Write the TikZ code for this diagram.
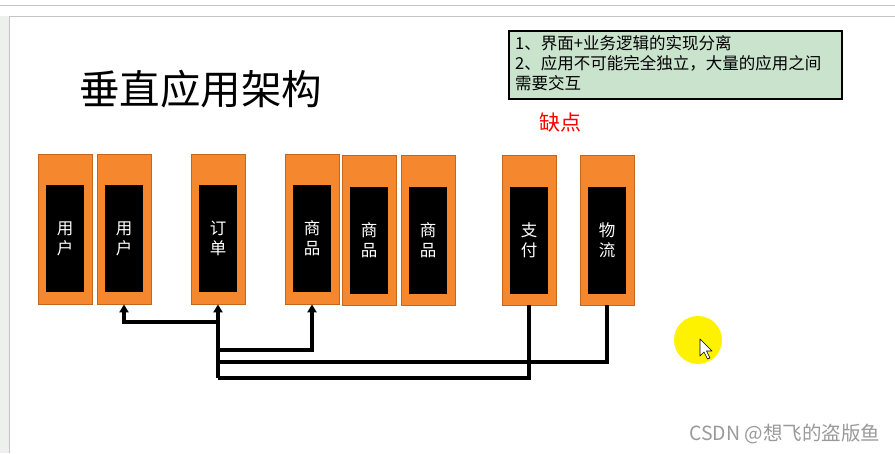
\documentclass[tikz,border=0pt]{standalone}
\usepackage{fontspec}
\setmainfont{Noto Sans CJK SC}
\usetikzlibrary{arrows.meta}
\definecolor{appor}{HTML}{F5882F}
\definecolor{appedge}{HTML}{C2671F}
\definecolor{notegreen}{HTML}{C9E3CD}
\definecolor{framegray}{HTML}{C4C4C4}
\definecolor{stripgray}{HTML}{EEF0EE}
\definecolor{wmgray}{HTML}{9A9A9A}
\definecolor{hiyellow}{HTML}{FFF200}
\begin{document}
\begin{tikzpicture}[x=1pt,y=-1pt,
  appbox/.style={draw=appedge,line width=0.8pt,fill=appor,minimum width=54pt,minimum height=150pt,inner sep=0pt},
  appin/.style={fill=black,text=white,minimum width=38pt,minimum height=107pt,inner sep=0pt,align=center,font=\fontsize{16.5}{20}\selectfont},
  conn/.style={line width=3.2pt,draw=black},
  tip/.style={-{Triangle[length=8pt,width=9pt]}}
]
\useasboundingbox (0,0) rectangle (895,453);
\fill[white] (0,0) rectangle (895,453);
% slide frame
\fill[stripgray] (0,16) rectangle (9,453);
\draw[framegray,line width=0.8pt] (0,5) -- (895,5);
\draw[framegray,line width=1pt] (9,453) -- (9,16) -- (895,16);
% title
\node[anchor=west,inner sep=0pt,font=\fontsize{40.5}{44}\selectfont] (title) at (79,89) {垂直应用架构};
% note box
\node[draw=black,line width=2pt,fill=notegreen,minimum width=333pt,minimum height=68pt,inner sep=0pt] (note) at (675.5,65) {};
\node[anchor=north west,inner sep=0pt,align=left,font=\fontsize{16.5}{20}\selectfont] (notetext) at (515,35) {1、界面+业务逻辑的实现分离\\2、应用不可能完全独立，大量的应用之间\\需要交互};
\node[text=red,inner sep=0pt,font=\fontsize{21}{23}\selectfont] (flaw) at (560,122) {缺点};
% app boxes
\node[appbox] (u1) at (65,229) {};
\node[appbox] (u2) at (124,229) {};
\node[appbox] (dd) at (218,229) {};
\node[appbox] (sp1) at (312,229) {};
\node[appbox] (sp2) at (369,230) {};
\node[appbox] (sp3) at (428,230) {};
\node[appbox] (zf) at (529,230) {};
\node[appbox] (wl) at (607,230) {};
\node[appin] (u1i) at (65,238.5) {用\\户};
\node[appin] (u2i) at (124,238.5) {用\\户};
\node[appin] (ddi) at (218,238.5) {订\\单};
\node[appin] (sp1i) at (312,238.5) {商\\品};
\node[appin] (sp2i) at (369,240) {商\\品};
\node[appin] (sp3i) at (428,240) {商\\品};
\node[appin] (zfi) at (529,240) {支\\付};
\node[appin] (wli) at (607,240) {物\\流};
% connectors
\coordinate (j1) at (218,322);
\coordinate (j2) at (218,350);
\coordinate (j3) at (218,362);
\coordinate (j4) at (218,378);
\draw[conn,line width=3.6pt,tip] (j4) -- (dd.south);
\draw[conn,tip] (j1) -| (u2.south);
\draw[conn,tip] (j2) -| (sp1.south);
\draw[conn] (j3) -| (wl.south);
\draw[conn] (j4) -| (zf.south);
% pointer highlight
\fill[hiyellow] (698,340) circle (24);
\draw[black,fill=white,line width=0.6pt,line join=round] (700,339) -- (700,356) -- (704,352) -- (707.5,359) -- (710,358) -- (706.5,351) -- (712,351) -- cycle;
% watermark
\node[anchor=west,inner sep=0pt,text=wmgray,font=\fontsize{19.5}{21}\selectfont] (wm) at (689,434) {CSDN @想飞的盗版鱼};
\end{tikzpicture}
\end{document}
